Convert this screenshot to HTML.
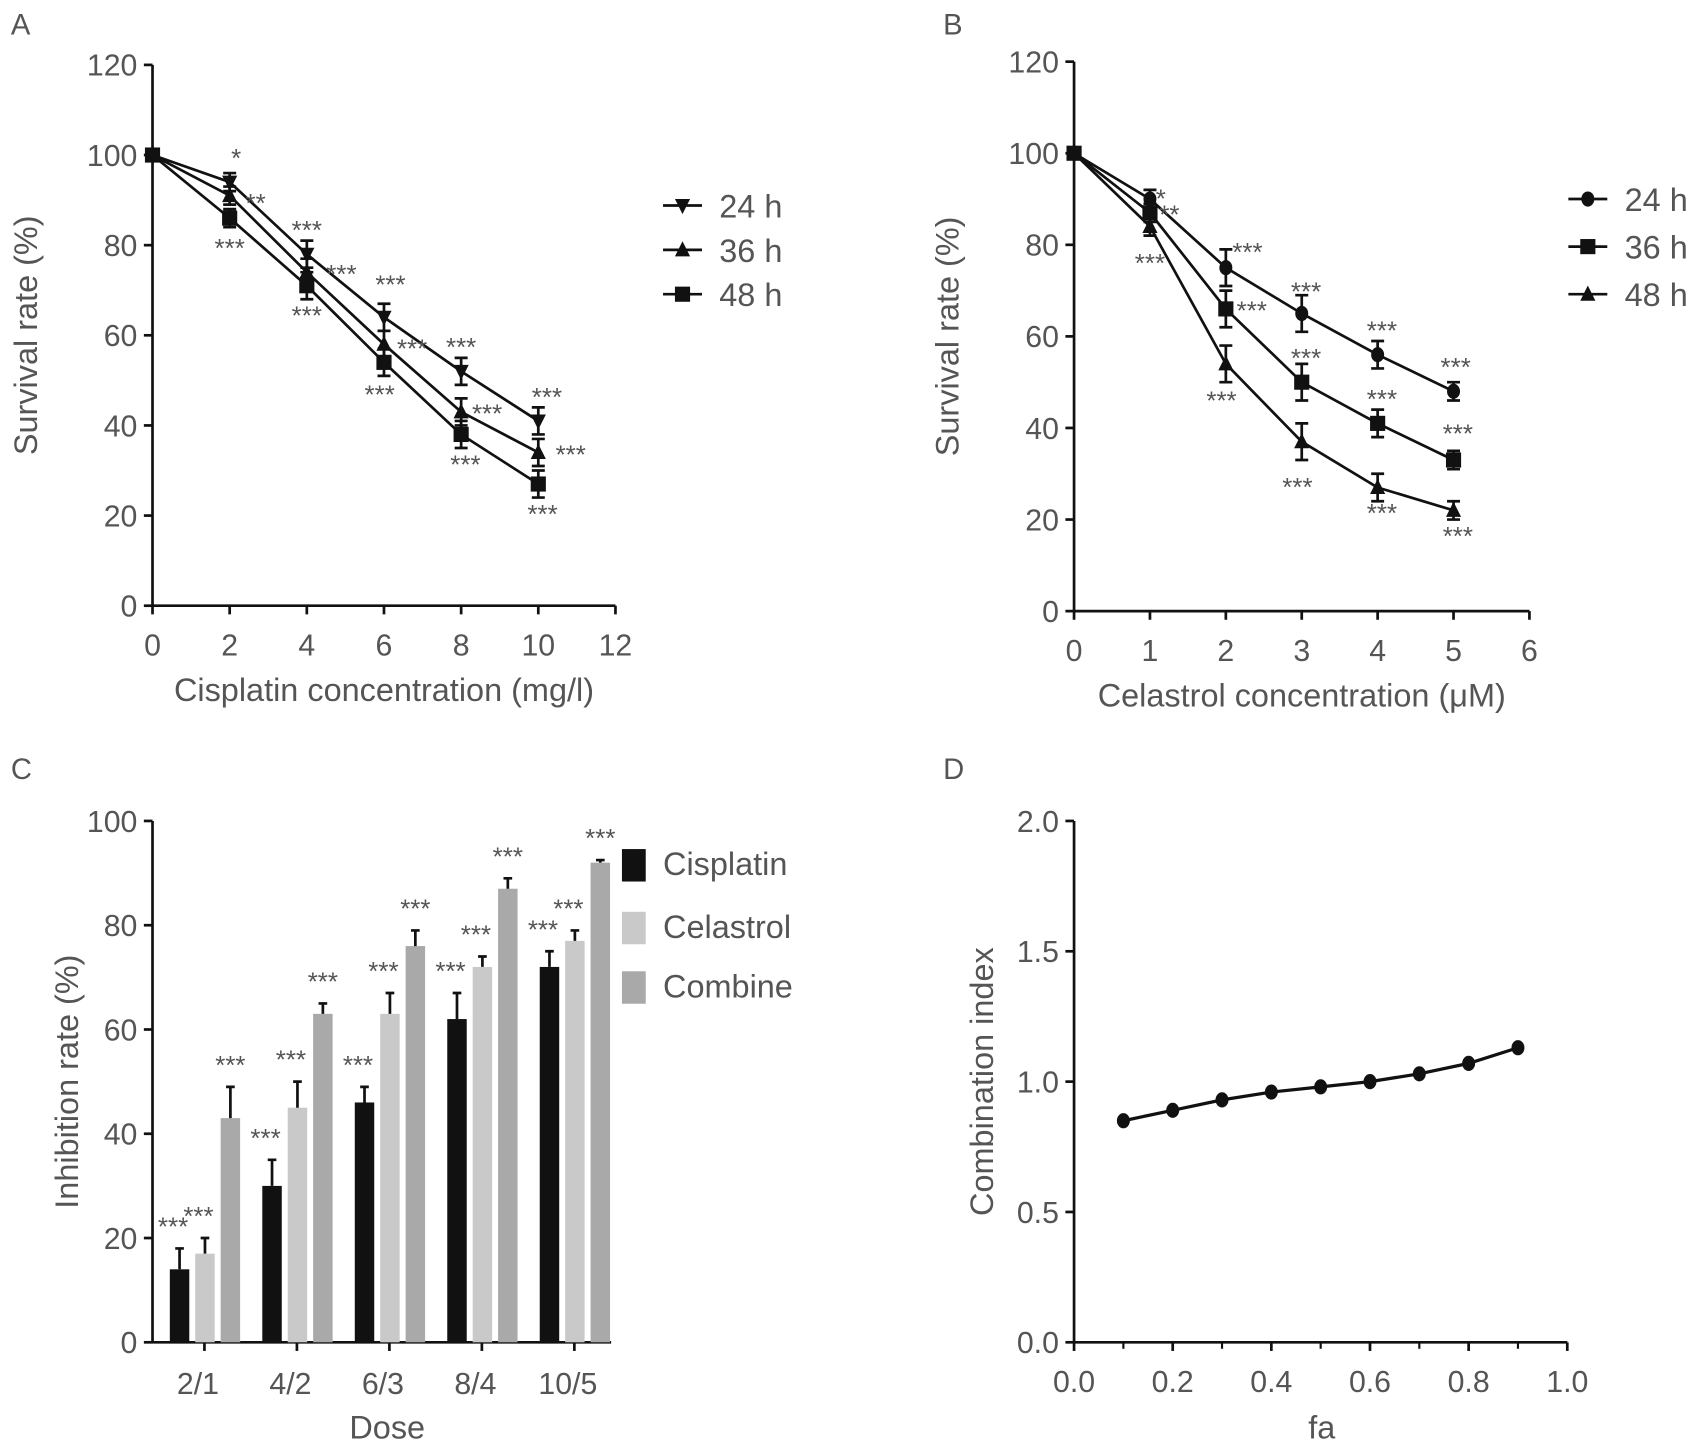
<!DOCTYPE html>
<html><head><meta charset="utf-8"><style>
html,body{margin:0;padding:0;background:#fff}
svg{display:block}
text{font-family:"Liberation Sans",sans-serif;fill:#555}
</style></head><body>
<svg id="s" width="1696" height="1451" viewBox="0 0 1568 1341.5"></svg>
<script>
// Panel A data
const aX=[0,2,4,6,8,10];
const a24=[100,94,78,64,52,41];
const a36=[100,91,74,58,43,34];
const a48=[100,86,71,54,38,27];
const aErr=[1,2,3,3,3,3];
// Panel B data
const bX=[0,1,2,3,4,5];
const b24=[100,90,75,65,56,48];
const b36=[100,87,66,50,41,33];
const b48=[100,84,54,37,27,22];
const bErr=[1,2,4,4,3,2];
// Panel C data
const cCats=["2/1","4/2","6/3","8/4","10/5"];
const cCis=[14,30,46,62,72];
const cCel=[17,45,63,72,77];
const cComb=[43,63,76,87,92];
const cCisErr=[4,5,3,5,3];
const cCelErr=[3,5,4,2,2];
const cCombErr=[6,2,3,2,0.5];
// Panel D data
const dX=[0.1,0.2,0.3,0.4,0.5,0.6,0.7,0.8,0.9];
const dY=[0.85,0.89,0.93,0.96,0.98,1.0,1.03,1.07,1.13];
const yTicksAB=[0,20,40,60,80,100,120];
const yTicksC=[0,20,40,60,80,100];
const yTicksD=[0,0.5,1.0,1.5,2.0];
const xTicksD=[0,0.2,0.4,0.6,0.8,1.0];

const S=document.getElementById('s');const NS='http://www.w3.org/2000/svg';
function el(t,a,txt){const e=document.createElementNS(NS,t);for(const k in a)e.setAttribute(k,a[k]);if(txt!==undefined)e.textContent=txt;S.appendChild(e);return e;}
function line(x1,y1,x2,y2,w,name){const e=el('line',{x1,y1,x2,y2,stroke:'#111','stroke-width':w||2.5});

return e;}
function txt(x,y,s,size,anchor,name,extra){const e=el('text',Object.assign({x,y,'font-size':size,'text-anchor':anchor||'middle'},extra||{}),s);

return e;}
function marker(type,x,y,name){let e;
if(type==='sq')e=el('rect',{x:x-7,y:y-7,width:14,height:14,fill:'#111'});
else if(type==='up')e=el('polygon',{points:`${x},${y-8} ${x-7},${y+6} ${x+7},${y+6}`,fill:'#111'});
else if(type==='down')e=el('polygon',{points:`${x},${y+8} ${x-7},${y-6} ${x+7},${y-6}`,fill:'#111'});
else e=el('ellipse',{cx:x,cy:y,rx:6,ry:7,fill:'#111'});

}
function errbar(x,y1,y2,name){const g=el('path',{d:`M${x},${y1}V${y2}M${x-6},${y1}H${x+6}M${x-6},${y2}H${x+6}`,stroke:'#111','stroke-width':2.5,fill:'none'});

}

function linePanel(o){
 const X=v=>o.x0+(v-o.xmin)*(o.x1-o.x0)/(o.xmax-o.xmin);
 const Y=v=>o.y0+(v-o.ymin)*(o.y1-o.y0)/(o.ymax-o.ymin);
 line(o.x0,o.y0,o.x0,o.y1,2.5,'y-axis');line(o.x0,o.y0,o.x1,o.y0,2.5,'x-axis');
 o.yt.forEach(v=>{line(o.x0-8,Y(v),o.x0,Y(v),2.5,'y-tick');txt(o.x0-14,Y(v)+10,String(v),28,'end','y-tick-label');});
 o.xt.forEach(v=>{line(X(v),o.y0,X(v),o.y0+8,2.5,'x-tick');txt(X(v),o.y0+46,String(v),28,'middle','x-tick-label');});
 txt(o.label[0],o.label[1],o.letter,27,'start','panel-label');
 txt((o.x0+o.x1)/2,o.y0+88,o.xtitle,30,'middle','x-axis-title');
 txt(0,0,o.ytitle,30,'middle','y-axis-title',{transform:`translate(${o.x0-107},${(o.y0+o.y1)/2}) rotate(-90)`});
 o.series.forEach((s,si)=>{
  const pts=o.xs.map((v,i)=>X(v)+','+Y(s.v[i])).join(' ');
  const p=el('polyline',{points:pts,fill:'none',stroke:'#111','stroke-width':2.5});
  
  
  o.xs.forEach((v,i)=>{if(i>0)errbar(X(v),Y(s.v[i]+o.err[i]),Y(s.v[i]-o.err[i]),'error-bar');marker(s.m,X(v),Y(s.v[i]),'point-'+s.name);});
  const ly=o.leg[1]+si*o.leg[2];
  line(o.leg[0],ly,o.leg[0]+36,ly,2.5,'legend-line');marker(s.m,o.leg[0]+18,ly,'legend-marker');
  txt(o.leg[0]+52,ly+11,s.label,30,'start','legend-label');
 });
 o.stars.forEach(st=>txt(X(st[0])+st[2],Y(st[1])+st[3],st[4],24,'middle','significance-mark'));
}
linePanel({x0:141,x1:569,y0:560,y1:60,xmin:0,xmax:12,ymin:0,ymax:120,yt:yTicksAB,xt:[0,2,4,6,8,10,12],xs:aX,err:aErr,
 letter:'A',label:[10,32],xtitle:'Cisplatin concentration (mg/l)',ytitle:'Survival rate (%)',leg:[613,190,41],
 series:[{name:'24h',label:'24 h',v:a24,m:'down'},{name:'36h',label:'36 h',v:a36,m:'up'},{name:'48h',label:'48 h',v:a48,m:'sq'}],
 stars:[[2,a24[1],6,-14,'*'],[2,a36[1],24,15,'**'],[2,a48[1],0,36,'***'],[4,a24[2],0,-14,'***'],[4,a36[2],32,10,'***'],[4,a48[2],0,36,'***'],
 [6,a24[3],6,-22,'***'],[6,a36[3],26,12,'***'],[6,a48[3],-4,38,'***'],[8,a24[4],0,-14,'***'],[8,a36[4],24,10,'***'],[8,a48[4],4,36,'***'],
 [10,a24[5],8,-14,'***'],[10,a36[5],30,10,'***'],[10,a48[5],4,36,'***']]});
linePanel({x0:993,x1:1414,y0:565,y1:57,xmin:0,xmax:6,ymin:0,ymax:120,yt:yTicksAB,xt:[0,1,2,3,4,5,6],xs:bX,err:bErr,
 letter:'B',label:[872,32],xtitle:'Celastrol concentration (\u03bcM)',ytitle:'Survival rate (%)',leg:[1450,184,44],
 series:[{name:'24h',label:'24 h',v:b24,m:'circ'},{name:'36h',label:'36 h',v:b36,m:'sq'},{name:'48h',label:'48 h',v:b48,m:'up'}],
 stars:[[1,b24[1],10,8,'*'],[1,b36[1],18,10,'**'],[1,b48[1],0,42,'***'],[2,b24[2],20,-6,'***'],[2,b36[2],24,10,'***'],[2,b48[2],-4,42,'***'],
 [3,b24[3],4,-12,'***'],[3,b36[3],4,-14,'***'],[3,b48[3],-4,50,'***'],[4,b24[4],4,-14,'***'],[4,b36[4],4,-14,'***'],[4,b48[4],4,32,'***'],
 [5,b24[5],2,-14,'***'],[5,b36[5],4,-16,'***'],[5,b48[5],4,32,'***']]});

(function(){
 const x0=141,x1=565,y0=1241,y1=759;const Y=v=>y0+v*(y1-y0)/100;
 const gx=i=>181+i*85.5;
 line(x0,y0,x0,y1,2.5,'y-axis');line(x0,y0,x1,y0,2.5,'x-axis');
 yTicksC.forEach(v=>{line(x0-8,Y(v),x0,Y(v),2.5,'y-tick');txt(x0-14,Y(v)+10,String(v),28,'end','y-tick-label');});
 cCats.forEach((c,i)=>{line(gx(i)+8,y0,gx(i)+8,y0+8,2.5,'x-tick');txt(gx(i)+2,y0+48,c,28,'middle','x-tick-label');});
 txt(10,720,'C',27,'start','panel-label');
 txt(358,1330,'Dose',30,'middle','x-axis-title');
 txt(0,0,'Inhibition rate (%)',30,'middle','y-axis-title',{transform:`translate(72,1000) rotate(-90)`});
 const ser=[[cCis,cCisErr,'#111','cisplatin'],[cCel,cCelErr,'#c9c9c9','celastrol'],[cComb,cCombErr,'#a9a9a9','combine']];
 cCats.forEach((c,i)=>ser.forEach((s,j)=>{
  const bx=gx(i)-24+j*23.5, v=s[0][i], e=s[1][i];
  const r=el('rect',{x:bx,y:Y(v),width:18,height:y0-Y(v),fill:s[2]});
  
  
  const p=el('path',{d:`M${bx+9},${Y(v)}V${Y(v+e)}M${bx+5},${Y(v+e)}H${bx+13}`,stroke:'#111','stroke-width':2.5});
  
  
  txt(bx+9-(j<2?6:0),Y(v+e)-12,'***',24,'middle','significance-mark');
 }));
 const leg=[['Cisplatin','#111',785],['Celastrol','#c9c9c9',843],['Combine','#a9a9a9',898]];
 leg.forEach(l=>{const r=el('rect',{x:575,y:l[2],width:22,height:30,fill:l[1]});
  
  
  txt(613,l[2]+24,l[0],30,'start','legend-label');});
})();

(function(){
 const x0=993,x1=1449,y0=1241,y1=759;const X=v=>x0+v*(x1-x0);const Y=v=>y0+v*(y1-y0)/2;
 line(x0,y0,x0,y1,2.5,'y-axis');line(x0,y0,x1,y0,2.5,'x-axis');
 yTicksD.forEach(v=>{line(x0-8,Y(v),x0,Y(v),2.5,'y-tick');txt(x0-14,Y(v)+10,v.toFixed(1),28,'end','y-tick-label');});
 xTicksD.forEach(v=>{line(X(v),y0,X(v),y0+8,2.5,'x-tick');txt(X(v),y0+46,v.toFixed(1),28,'middle','x-tick-label');});
 dX.forEach(v=>line(X(v),y0,X(v),y0+6,2,'minor-tick'));
 txt(872,720,'D',27,'start','panel-label');
 txt(1222,1330,'fa',30,'middle','x-axis-title');
 txt(0,0,'Combination index',30,'middle','y-axis-title',{transform:`translate(918,1000) rotate(-90)`});
 const p=el('polyline',{points:dX.map((v,i)=>X(v)+','+Y(dY[i])).join(' '),fill:'none',stroke:'#111','stroke-width':3});
 
 
 dX.forEach((v,i)=>marker('circ',X(v),Y(dY[i]),'ci-point'));
})();
</script>
</body></html>
